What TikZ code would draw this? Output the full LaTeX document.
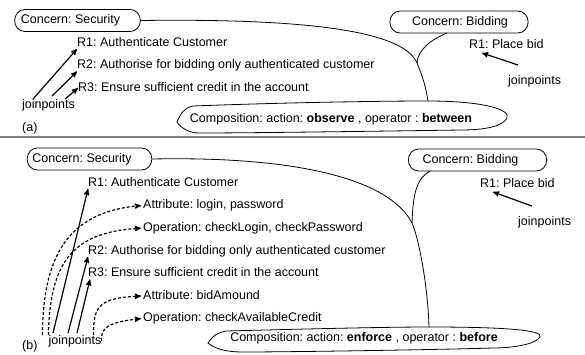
\documentclass[tikz,border=0pt]{standalone}
\usepackage{fontspec}
\setmainfont{Liberation Sans}
\usetikzlibrary{arrows,positioning,calc}
\frenchspacing

\tikzset{
  lbl/.style={font=\fontsize{12.5}{15}\selectfont,inner sep=0pt,text height=9pt,text depth=2.5pt},
  req/.style={lbl,anchor=west},
  blob/.style={line width=0.8pt},
  jp/.style={->,>=stealth',line width=1.2pt},
  jpd/.style={jp,densely dashed},
  sep/.style={draw=gray,line width=1.5pt}
}

% hand drawn loop round a concern, #2/#3 = space left/right of the text
\newcommand{\lasso}[3]{%
  \draw[blob] ([xshift=10pt-#2,yshift=-5pt]#1.south west)
    to[out=180,in=-90] ([xshift=-#2]#1.west)
    to[out=90,in=180] ([xshift=10pt-#2,yshift=5pt]#1.north west)
    -- ([xshift=#3-10pt,yshift=5pt]#1.north east)
    to[out=0,in=90] ([xshift=#3]#1.east) coordinate (#1r)
    to[out=-90,in=0] ([xshift=#3-10pt,yshift=-5pt]#1.south east)
    -- cycle;}

\begin{document}
\begin{tikzpicture}[x=1pt,y=1pt]
    \useasboundingbox (0,0) rectangle (585,-354);
    % (a)
    \node[lbl](secA) at (70.5,-20.5){Concern: Security};
    \node[lbl](bidA) at (460,-22){Concern: Bidding};
    \node[req](r1A) at (77,-43){R1: Authenticate Customer};
    \node[req,below=22.5pt of r1A.west,anchor=west](r2A){R2: Authorise for bidding only authenticated customer};
    \node[req,below=22.5pt of r2A.west,anchor=west,xshift=1pt](r3A){R3: Ensure sufficient credit in the account};
    \node[lbl](jpA) at (48.5,-105){joinpoints};
    \node[req](placeA) at (469,-45){R1: Place bid};
    \node[req](jpbA) at (508,-81){joinpoints};
    \node[req](labA) at (22,-128){(a)};
    \node[lbl](compA) at (331,-119){Composition: action: \textbf{observe} , operator : \textbf{between}};
    \lasso{secA}{6pt}{20pt}
    \lasso{bidA}{22pt}{20pt}
    \draw[blob,shift={(compA.center)}] (-154,-3) .. controls (-150,6) and (-147,11) .. (-138,13)
        .. controls (-60,16) and (40,18) .. (97,18) coordinate (compAt)
        .. controls (150,18) and (180,10) .. (176,1)
        .. controls (172,-7) and (155,-11) .. (130,-11)
        .. controls (60,-12) and (-80,-14) .. (-132,-14)
        .. controls (-142,-14) and (-150,-9) .. cycle;
    \coordinate (joinA) at (417,-63);
    \draw[blob] (secAr) .. controls (330,-18) and (405,-35) .. (joinA)
        .. controls (423,-77) and (426,-88) .. (compAt);
    \draw[blob] ([xshift=-13pt,yshift=-5pt]bidA.south) .. controls (430,-40) and (418,-50) .. (joinA);
    \draw[jp] ([xshift=-15.5pt]jpA.north) -- (r1A.south west);
    \draw[jp] ([xshift=3.5pt,yshift=3pt]jpA.north) -- (r2A.south west);
    \draw[jp] ([xshift=16.5pt]jpA.north) -- (r3A.west);
    \draw[jp] ([xshift=10pt,yshift=10pt]jpbA.north west) -- ([xshift=13pt,yshift=-2pt]placeA.south west);

    \draw[sep] (0,-137) -- (585,-137);

    % (b)
    \node[lbl](secB) at (82,-159){Concern: Security};
    \node[lbl](bidB) at (470.5,-160){Concern: Bidding};
    \node[req](r1B) at (88,-183){R1: Authenticate Customer};
    \node[req,below=22.6pt of r1B.west,anchor=west,xshift=55pt](atB1){Attribute: login, password};
    \node[req,below=22.6pt of atB1.west,anchor=west](opB1){Operation: checkLogin, checkPassword};
    \node[req,below=22.6pt of opB1.west,anchor=west,xshift=-55pt](r2B){R2: Authorise for bidding only authenticated customer};
    \node[req,below=22.6pt of r2B.west,anchor=west](r3B){R3: Ensure sufficient credit in the account};
    \node[req,below=22.6pt of r3B.west,anchor=west,xshift=55pt](atB2){Attribute: bidAmound};
    \node[req,below=22.6pt of atB2.west,anchor=west](opB2){Operation: checkAvailableCredit};
    \node[lbl](jpB) at (75,-341){joinpoints};
    \node[req](labB) at (22,-346){(b)};
    \node[req](placeB) at (480,-184){R1: Place bid};
    \node[req](jpbB) at (518,-222){joinpoints};
    \node[lbl](compB) at (364,-338){Composition: action: \textbf{enforce} , operator : \textbf{before}};
    \lasso{secB}{5pt}{20pt}
    \lasso{bidB}{14pt}{28pt}
    \draw[blob,shift={(compB.center)}] (-156,-5) .. controls (-152,1) and (-148,5) .. (-138,7)
        .. controls (-60,9) and (20,11) .. (65,11) coordinate (compBt)
        .. controls (140,11) and (180,8) .. (176,1)
        .. controls (172,-6) and (150,-10) .. (129,-10)
        .. controls (60,-12) and (-80,-14) .. (-121,-14)
        .. controls (-140,-14) and (-150,-10) .. cycle;
    \coordinate (joinB) at (412,-223);
    \draw[blob] (secBr) .. controls (300,-156) and (390,-180) .. (joinB)
        .. controls (420,-242) and (428,-290) .. (compBt);
    \draw[blob] ([xshift=-40pt,yshift=-5pt]bidB.south) .. controls (416,-178) and (413,-195) .. (joinB);
    \draw[jp] ([xshift=-22pt,yshift=2pt]jpB.north) -- (r1B.south west);
    \draw[jp] ([xshift=-7pt,yshift=2pt]jpB.north) -- (r2B.south west);
    \draw[jp] ([xshift=2pt,yshift=2pt]jpB.north) -- ([xshift=2pt]r3B.south west);
    \draw[jpd] ([xshift=-6pt]jpB.north west) .. controls (43,-260) and (65,-212) .. ([xshift=-2pt]atB1.west);
    \draw[jpd] (jpB.north west) .. controls (50,-265) and (70,-232) .. ([xshift=-2pt]opB1.west);
    \draw[jpd] ([xshift=-8pt]jpB.north east) .. controls (93,-305) and (100,-298) .. ([xshift=-2pt]atB2.west);
    \draw[jpd] (jpB.east) .. controls (100,-327) and (110,-322) .. ([xshift=-2pt]opB2.west);
    \draw[jp] ([xshift=14pt,yshift=10pt]jpbB.north west) -- ([xshift=13pt,yshift=-2pt]placeB.south west);
\end{tikzpicture}
\end{document}
